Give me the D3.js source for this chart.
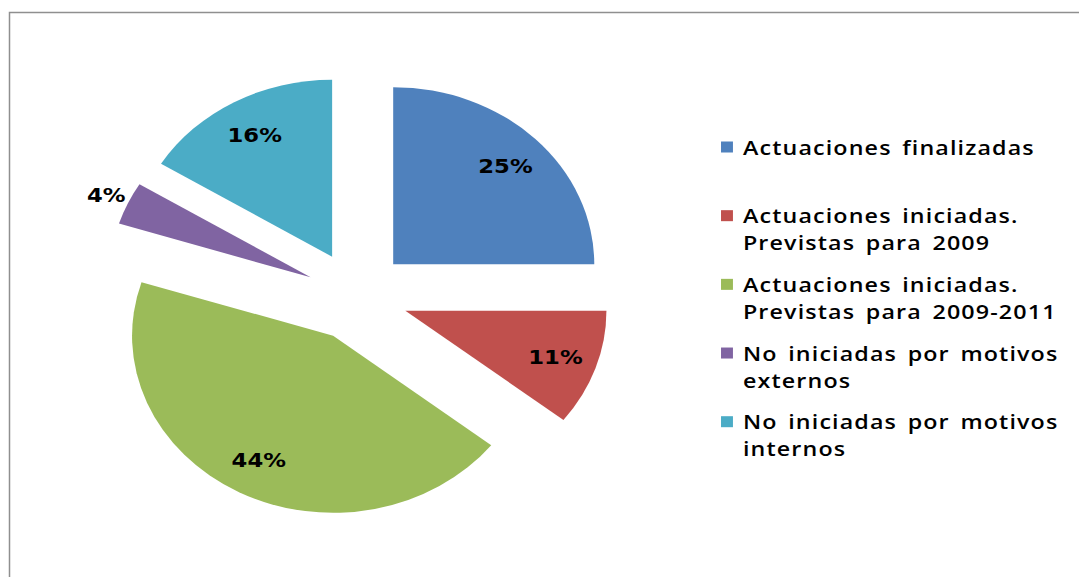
<!DOCTYPE html>
<html>
<head>
<meta charset="utf-8">
<script src="https://cdn.jsdelivr.net/npm/d3@7/dist/d3.min.js"></script>
<style>
  body { margin: 0; background: #fff; }
  svg { display: block; }
</style>
</head>
<body>
<div id="chart"></div>
<script>
// data
var categories = [
    'Actuaciones finalizadas',
    'Actuaciones iniciadas. Previstas para 2009',
    'Actuaciones iniciadas. Previstas para 2009-2011',
    'No iniciadas por motivos externos',
    'No iniciadas por motivos internos'
];
var legendLines = [
    ['Actuaciones finalizadas'],
    ['Actuaciones iniciadas.', 'Previstas para 2009'],
    ['Actuaciones iniciadas.', 'Previstas para 2009-2011'],
    ['No iniciadas por motivos', 'externos'],
    ['No iniciadas por motivos', 'internos']
];
var values = [25, 10.6, 44.3, 3.9, 16.2];
var colors = ['#4F81BD', '#C0504D', '#9BBB59', '#8064A2', '#4BACC6'];

var chart_width = 1079;
var chart_height = 577;
var stretch = 1.136;      // the original picture is wider than tall
var radius = 177;
var explode = 45;

var svg = d3.select('#chart')
    .append('svg')
    .attr('width', chart_width)
    .attr('height', chart_height);

// chart frame (open to the right and bottom)
svg.append('rect')
    .attr('x', 9.5)
    .attr('y', 12.5)
    .attr('width', 1200)
    .attr('height', 700)
    .attr('fill', 'none')
    .attr('stroke', '#8f8f8f')
    .attr('stroke-width', 1.5);

var g = svg.append('g')
    .attr('transform', 'scale(' + stretch + ',1)');

var pie = d3.pie().sort(null).value(function(d) { return d; });
var arcs = pie(values);
var arc = d3.arc().innerRadius(0).outerRadius(radius);

var total = d3.sum(values);
var pct = d3.format('.0%');

var pieG = g.append('g')
    .attr('transform', 'translate(314.3,296)');

function mid(d) { return (d.startAngle + d.endAngle) / 2; }

// create slices
pieG.selectAll('path')
    .data(arcs)
    .enter()
    .append('path')
    .attr('d', arc)
    .attr('fill', function(d, i) { return colors[i]; })
    .attr('transform', function(d) {
        var a = mid(d);
        return 'translate(' + Math.sin(a) * explode + ',' + (-Math.cos(a) * explode) + ')';
    });

// create labels (small slices get their label outside)
function labelR(d) {
    return explode + (d.value / total < 0.05 ? radius + 21 : radius * 0.79);
}

pieG.selectAll('text')
    .data(arcs)
    .enter()
    .append('text')
    .text(function(d) { return pct(d.value / total); })
    .attr('x', function(d) { return Math.sin(mid(d)) * labelR(d); })
    .attr('y', function(d) { return -Math.cos(mid(d)) * labelR(d); })
    .attr('dy', '0.36em')
    .attr('text-anchor', 'middle')
    .attr('font-family', 'DejaVu Sans, sans-serif')
    .attr('font-weight', 'bold')
    .attr('font-size', 20)
    .attr('fill', '#000');

// legend
var legendY = d3.scalePoint()
    .domain(categories)
    .range([147, 421.7]);

var legend = g.selectAll('.legend')
    .data(categories)
    .enter()
    .append('g')
    .attr('class', 'legend')
    .attr('transform', function(d) { return 'translate(0,' + legendY(d) + ')'; });

legend.append('rect')
    .attr('x', 634.7)
    .attr('y', -5.5)
    .attr('width', 10.5)
    .attr('height', 11)
    .attr('fill', function(d, i) { return colors[i]; });

legend.append('text')
    .attr('x', 654)
    .attr('y', 7.5)
    .attr('font-family', 'Open Sans, sans-serif')
    .attr('font-weight', 600)
    .attr('font-size', 20.5)
    .attr('letter-spacing', 1)
    .attr('word-spacing', 3)
    .attr('fill', '#000')
    .each(function(d, i) {
        var t = d3.select(this);
        legendLines[i].forEach(function(line, j) {
            t.append('tspan')
                .attr('x', 654)
                .attr('dy', j === 0 ? 0 : 27)
                .text(line);
        });
    });
</script>
</body>
</html>
